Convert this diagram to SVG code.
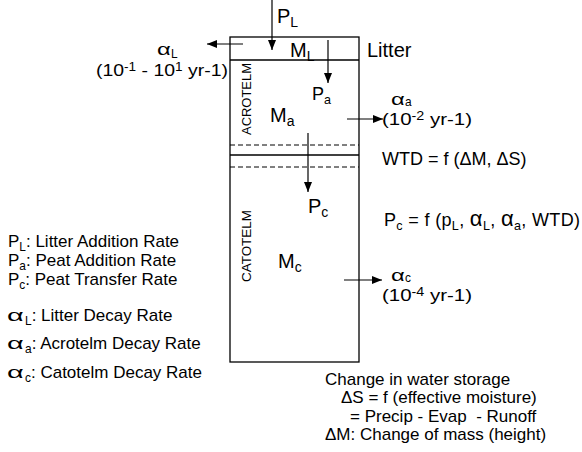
<svg xmlns="http://www.w3.org/2000/svg" width="582" height="452" viewBox="0 0 582 452">
<style>
text{font-family:"Liberation Sans",Arial,sans-serif;fill:#000}
.big{font-size:20px}
.mid{font-size:18px}
.lg{font-size:17px}
.vert{font-size:12px}
.sub{font-size:70%}
.line{stroke:#000;stroke-width:1.3;fill:none}
.dash{stroke:#000;stroke-width:1;stroke-dasharray:5 3;fill:none}
.arrow{stroke:#000;stroke-width:1.2;fill:none;marker-end:url(#ah)}
</style>
<defs>
<marker id="ah" markerUnits="userSpaceOnUse" markerWidth="10" markerHeight="8" refX="10" refY="4" orient="auto">
<path d="M0,0 L10,4 L0,8 z" fill="#000"/>
</marker>
</defs>
<rect width="582" height="452" fill="#fff"/>

<g id="column">
<rect class="line" x="230" y="37" width="129" height="325"/>
<line class="line" x1="230" y1="60" x2="359" y2="60"/>
<line class="dash" x1="230" y1="145" x2="359" y2="145"/>
<line class="line" x1="230" y1="155" x2="359" y2="155"/>
<line class="dash" x1="230" y1="167" x2="359" y2="167"/>
</g>

<g id="litter">
<text class="big" x="290" y="57">M<tspan class="sub" dy="4">L</tspan></text>
<text class="big" x="367" y="57" font-size="21">Litter</text>
</g>

<g id="acrotelm">
<text class="vert" transform="translate(251,135) rotate(-90)" textLength="72" lengthAdjust="spacingAndGlyphs">ACROTELM</text>
<text class="big" x="270" y="122">M<tspan class="sub" dy="4">a</tspan></text>
<text class="mid" x="312" y="100">P<tspan class="sub" dy="4">a</tspan></text>
</g>

<g id="catotelm">
<text class="vert" transform="translate(251,282) rotate(-90)" textLength="72" lengthAdjust="spacingAndGlyphs">CATOTELM</text>
<text class="big" x="278" y="268">M<tspan class="sub" dy="4">c</tspan></text>
<text class="big" x="308" y="213">P<tspan class="sub" dy="4">c</tspan></text>
</g>

<g id="connectors">
<line class="arrow" x1="272" y1="0" x2="272" y2="50"/>
<line class="arrow" x1="243" y1="44" x2="207" y2="44"/>
<line class="arrow" x1="328" y1="40" x2="328" y2="83"/>
<line class="arrow" x1="347" y1="119" x2="383" y2="119"/>
<line class="arrow" x1="344" y1="280" x2="382" y2="280"/>
<line class="arrow" x1="308" y1="133" x2="308" y2="192"/>
</g>

<g id="pL">
<text class="big" x="277" y="23">P<tspan class="sub" dy="4">L</tspan></text>
</g>

<g id="alphaL">
<text class="lg" transform="translate(157,55) scale(1.4,1)">α</text>
<text class="lg" x="171" y="58"><tspan class="sub">L</tspan></text>
<text class="lg" x="96" y="76" font-size="17.5" textLength="132" lengthAdjust="spacingAndGlyphs">(10<tspan class="sub" dy="-5">-1</tspan><tspan dy="5"> - 10</tspan><tspan class="sub" dy="-5">1</tspan><tspan dy="5"> yr-1)</tspan></text>
</g>

<g id="alphaA">
<text class="lg" transform="translate(391,105) scale(1.4,1)">α</text>
<text class="lg" x="405" y="106"><tspan class="sub">a</tspan></text>
<text class="lg" x="382" y="125" font-size="18" textLength="90" lengthAdjust="spacingAndGlyphs">(10<tspan class="sub" dy="-5">-2</tspan><tspan dy="5"> yr-1)</tspan></text>
</g>

<g id="alphaC">
<text class="lg" transform="translate(391,281) scale(1.4,1)">α</text>
<text class="lg" x="405" y="282"><tspan class="sub">c</tspan></text>
<text class="lg" x="382" y="301" font-size="18" textLength="90" lengthAdjust="spacingAndGlyphs">(10<tspan class="sub" dy="-5">-4</tspan><tspan dy="5"> yr-1)</tspan></text>
</g>

<g id="equations">
<text class="mid" x="382" y="165">WTD = f (ΔM, ΔS)</text>
<text class="mid" x="384" y="226" textLength="196" lengthAdjust="spacing">P<tspan class="sub" dy="4">c</tspan><tspan dy="-4"> = f (p</tspan><tspan class="sub" dy="4">L</tspan><tspan dy="-4">, </tspan><tspan font-size="22">α</tspan><tspan class="sub" dy="4">L</tspan><tspan dy="-4">, </tspan><tspan font-size="22">α</tspan><tspan class="sub" dy="4">a</tspan><tspan dy="-4">, WTD)</tspan></text>
</g>

<g id="legend">
<text class="lg" x="8" y="247">P<tspan class="sub" dy="4">L</tspan><tspan dy="-4">: Litter Addition Rate</tspan></text>
<text class="lg" x="8" y="266">P<tspan class="sub" dy="4">a</tspan><tspan dy="-4">: Peat Addition Rate</tspan></text>
<text class="lg" x="8" y="285">P<tspan class="sub" dy="4">c</tspan><tspan dy="-4">: Peat Transfer Rate</tspan></text>
<text class="lg" transform="translate(7,321) scale(1.7,1)">α</text>
<text class="lg" x="25" y="321"><tspan class="sub" dy="4">L</tspan><tspan dy="-4">: Litter Decay Rate</tspan></text>
<text class="lg" transform="translate(7,349) scale(1.7,1)">α</text>
<text class="lg" x="25" y="349"><tspan class="sub" dy="4">a</tspan><tspan dy="-4">: Acrotelm Decay Rate</tspan></text>
<text class="lg" transform="translate(7,378) scale(1.7,1)">α</text>
<text class="lg" x="25" y="378"><tspan class="sub" dy="4">c</tspan><tspan dy="-4">: Catotelm Decay Rate</tspan></text>
</g>

<g id="notes">
<text class="lg" x="325" y="385" font-size="18">Change in water storage</text>
<text class="lg" x="341" y="403" font-size="18">ΔS = f (effective moisture)</text>
<text class="lg" x="350" y="422" font-size="18" xml:space="preserve">= Precip - Evap  - Runoff</text>
<text class="lg" x="325" y="440" font-size="18">ΔM: Change of mass (height)</text>
</g>
</svg>
